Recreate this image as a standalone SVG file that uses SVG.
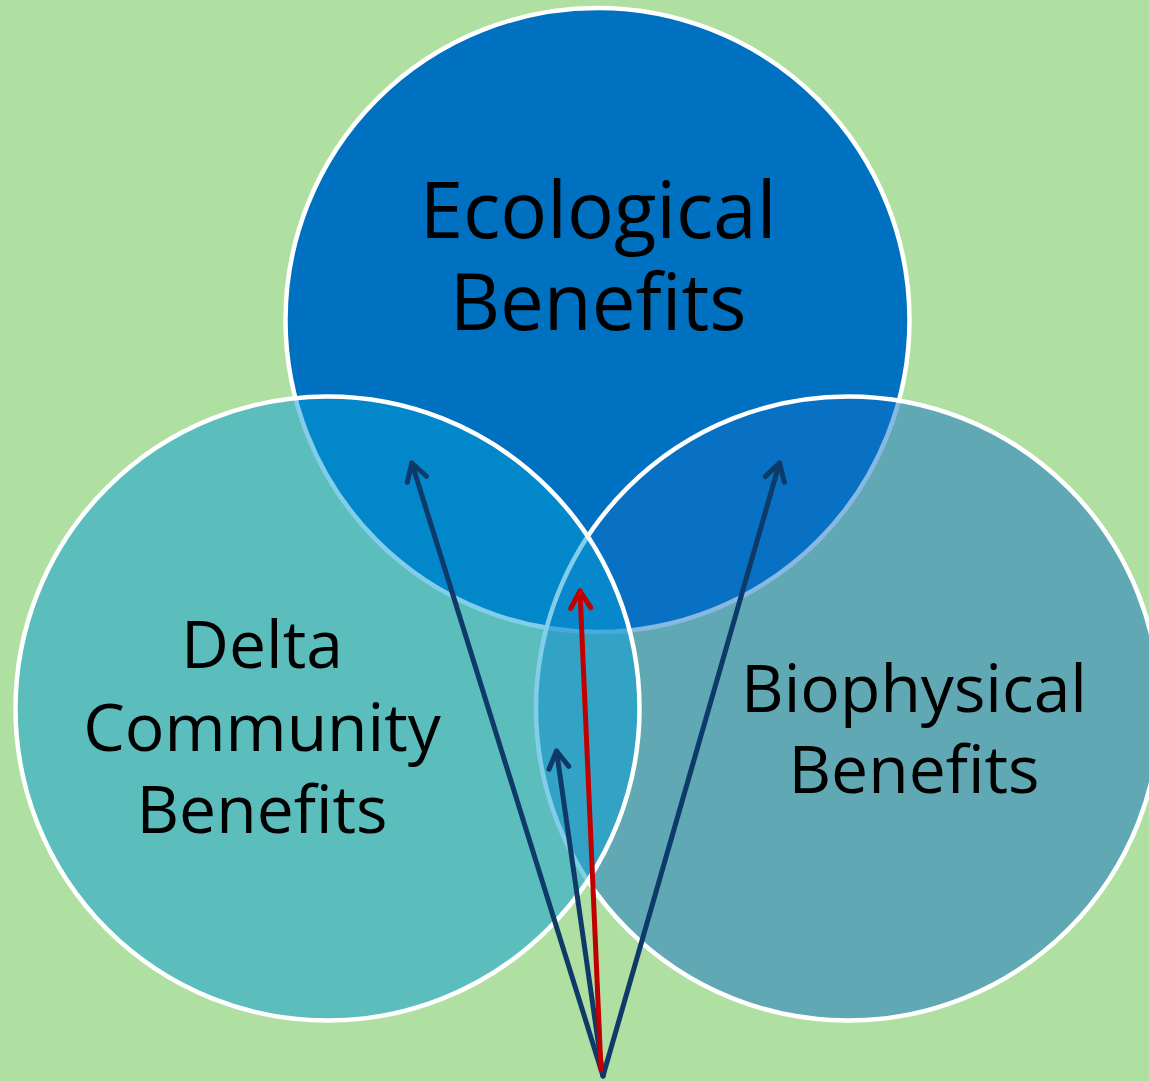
<svg xmlns="http://www.w3.org/2000/svg" width="1149" height="1081" viewBox="0 0 1149 1081">
<style>
.circ{stroke:#FFFFFF;stroke-width:4.5}
.lbl{font-family:"Open Sans","Noto Sans","Liberation Sans",sans-serif;fill:#000000;text-anchor:middle}
.big{font-size:78px}
.mid{font-size:66px}
.arr{fill:none;stroke-width:5;stroke-linecap:round}
.navy{stroke:#0D3A68}
.red{stroke:#C00000}
</style>
<defs>
<marker id="hNavy" markerUnits="userSpaceOnUse" markerWidth="40" markerHeight="40" viewBox="-20 -20 40 40" refX="0" refY="0" orient="auto" overflow="visible">
<path d="M-17,-10 L0,0 L-17,10" fill="none" stroke="#0D3A68" stroke-width="5" stroke-linecap="round" stroke-linejoin="round"/>
</marker>
<marker id="hRed" markerUnits="userSpaceOnUse" markerWidth="40" markerHeight="40" viewBox="-20 -20 40 40" refX="0" refY="0" orient="auto" overflow="visible">
<path d="M-17,-10 L0,0 L-17,10" fill="none" stroke="#C00000" stroke-width="5" stroke-linecap="round" stroke-linejoin="round"/>
</marker>
</defs>
<rect x="0" y="0" width="1149" height="1081" fill="#B0DFA2"/>
<g id="node-ecological">
<circle class="circ" cx="597.5" cy="320" r="312" fill="#0070C0"/>
</g>
<g id="node-biophysical">
<circle class="circ" cx="848" cy="708.5" r="312" fill="#1071C6" fill-opacity="0.5"/>
</g>
<g id="node-delta">
<circle class="circ" cx="327.5" cy="708.5" r="312" fill="#069DD6" fill-opacity="0.5"/>
</g>
<g id="labels">
<text class="lbl big" x="598" y="238">Ecological</text>
<text class="lbl big" x="598" y="330">Benefits</text>
<text class="lbl mid" x="262" y="668">Delta</text>
<text class="lbl mid" x="262" y="751">Community</text>
<text class="lbl mid" x="262" y="833">Benefits</text>
<text class="lbl mid" x="914" y="712">Biophysical</text>
<text class="lbl mid" x="914" y="793">Benefits</text>
</g>
<g id="connectors">
<line class="arr navy" x1="603" y1="1076" x2="411.8" y2="463" marker-end="url(#hNavy)"/>
<line class="arr navy" x1="603" y1="1076" x2="779.5" y2="463" marker-end="url(#hNavy)"/>
<line class="arr navy" x1="603" y1="1076" x2="556.5" y2="751" marker-end="url(#hNavy)"/>
<line class="arr red" x1="601" y1="1070" x2="580" y2="591" marker-end="url(#hRed)"/>
</g>
</svg>
